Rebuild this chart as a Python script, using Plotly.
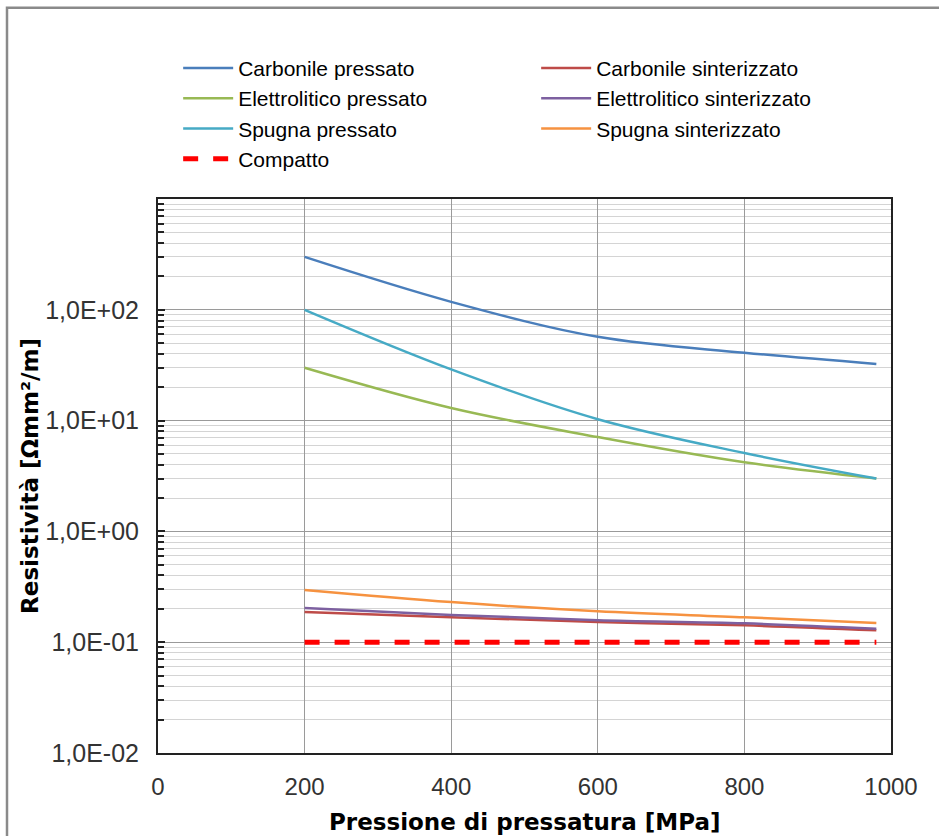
import plotly.graph_objects as go

pressione = [200, 400, 600, 800, 980]
carbonile_pressato = [300, 118, 57, 41, 32.5]
carbonile_sinterizzato = [0.187, 0.168, 0.152, 0.142, 0.128]
elettrolitico_pressato = [30, 13, 7.1, 4.2, 3.0]
elettrolitico_sinterizzato = [0.204, 0.176, 0.158, 0.148, 0.132]
spugna_pressato = [100, 29, 10.3, 5.1, 3.0]
spugna_sinterizzato = [0.296, 0.23, 0.19, 0.168, 0.149]
compatto = [0.1, 0.1, 0.1, 0.1, 0.1]

x_title = "Pressione di pressatura [MPa]"
y_title = "Resistività [Ωmm²/m]"

series = [
    ("Carbonile pressato", carbonile_pressato, "#4A7EBB", "solid", 2.5),
    ("Carbonile sinterizzato", carbonile_sinterizzato, "#BE4B48", "solid", 2.5),
    ("Elettrolitico pressato", elettrolitico_pressato, "#98B954", "solid", 2.5),
    ("Elettrolitico sinterizzato", elettrolitico_sinterizzato, "#7D60A0", "solid", 2.5),
    ("Spugna pressato", spugna_pressato, "#46AAC5", "solid", 2.5),
    ("Spugna sinterizzato", spugna_sinterizzato, "#F69240", "solid", 2.5),
    ("Compatto", compatto, "#FF0000", "dash", 5),
]

y_tickvals = [0.01, 0.1, 1, 10, 100, 1000]
y_ticktext = ["1,0E-02", "1,0E-01", "1,0E+00", "1,0E+01", "1,0E+02", ""]
minor_vals = [m * 10 ** e for e in range(-2, 3) for m in range(2, 10)]

fig = go.Figure()
for name, vals, color, dash, width in series:
    fig.add_trace(go.Scatter(
        x=pressione, y=vals, name=name, mode="lines",
        line=dict(color=color, dash=dash, width=width,
                  shape="spline" if dash == "solid" else "linear"),
    ))

fig.update_layout(
    width=939, height=836,
    margin=dict(l=158, r=48, t=199, b=83, autoexpand=False),
    paper_bgcolor="white", plot_bgcolor="white",
    font=dict(family="Liberation Sans, Arial", size=21, color="#000"),
    showlegend=True,
    legend=dict(
        orientation="h", x=0.0275, y=1.273, xanchor="left", yanchor="top",
        xref="paper", yref="paper",
        entrywidth=293, entrywidthmode="pixels",
        font=dict(family="Liberation Sans, Arial", size=21, color="#000"),
        itemwidth=50, tracegroupgap=0, bgcolor="rgba(0,0,0,0)",
    ),
    xaxis=dict(
        range=[0, 1000], tickvals=[0, 200, 400, 600, 800, 1000],
        showgrid=True, gridcolor="#9a9a9a", gridwidth=1,
        showline=True, linecolor="#222", linewidth=2, mirror=True,
        ticks="", zeroline=False, automargin=False,
        tickfont=dict(family="Liberation Sans, Arial", size=24, color="#333"),
        ticklabelstandoff=11,
    ),
    yaxis=dict(
        type="log", range=[-2, 3], automargin=False,
        tickvals=y_tickvals, ticktext=y_ticktext,
        showgrid=True, gridcolor="#9a9a9a", gridwidth=1,
        showline=True, linecolor="#222", linewidth=2, mirror=True,
        ticks="inside", ticklen=7, tickcolor="#222", tickwidth=2,
        tickfont=dict(family="Liberation Sans, Arial", size=25, color="#333"),
        ticklabelstandoff=12,
        minor=dict(tickvals=minor_vals, showgrid=True, gridcolor="#d4d4d4",
                   gridwidth=1, ticks="inside", ticklen=6, tickcolor="#222",
                   tickwidth=2),
        title=dict(text="<b>" + y_title + "</b>",
                   font=dict(family="DejaVu Sans", size=23, color="#000"),
                   standoff=0),
    ),
    annotations=[dict(text="<b>" + x_title + "</b>", xref="paper", yref="paper",
                      x=0.5, y=0, xanchor="center", yanchor="middle",
                      yshift=-69, showarrow=False, borderpad=0,
                      font=dict(family="DejaVu Sans", size=23, color="#000"))],
    shapes=[dict(type="rect", xref="paper", yref="paper",
                 x0=-0.206, x1=1.08, y0=-0.2, y1=1.345,
                 line=dict(color="#8a8a8a", width=2.5), layer="below")],
)

fig.write_html("out.html")
